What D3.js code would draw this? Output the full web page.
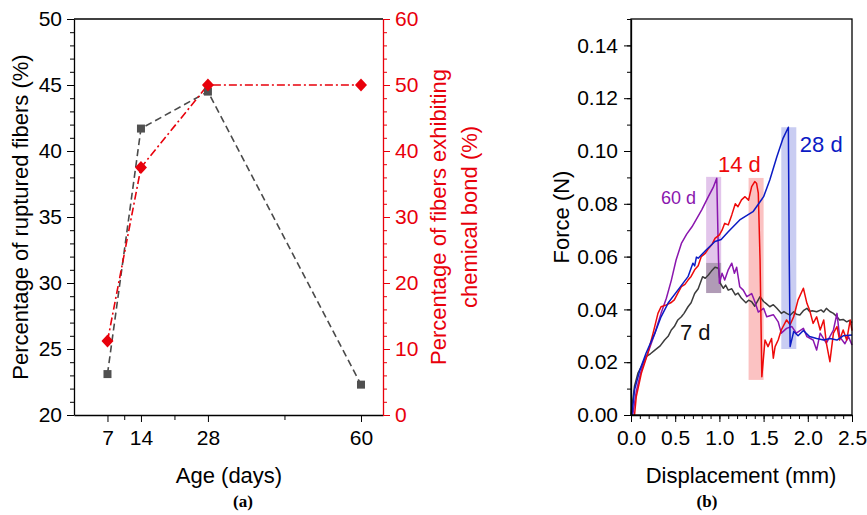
<!doctype html>
<html>
  <head>
    <meta charset="utf-8">
    <script src="https://cdn.jsdelivr.net/npm/d3@7/dist/d3.min.js"></script>
    <style>
      body { margin: 0; background: #fff; }
      svg { display: block; font-family: "Liberation Sans", Arial, sans-serif; }
    </style>
  </head>
  <body>
    <svg id="chart" width="867" height="515"></svg>
    <script>
      // (a) fiber statistics
      const ages = [7, 14, 28, 60];
      const ageTicks = [7, 14, 28, 60];
      const ageMinor = [10.5, 21, 44];
      const ruptured = [23.1, 41.7, 44.5, 22.3];   // left axis, %
      const chemBond = [11.2, 37.5, 50, 50];       // right axis, %

      // (b) force–displacement curves  [displacement mm, force N]
      const curve7d = [[0.0,0],[0.04,0.011],[0.08,0.016],[0.117,0.0183],[0.17,0.0221],[0.22,0.0232],[0.27,0.0246],
        [0.33,0.0262],[0.38,0.0284],[0.42,0.0298],[0.456,0.0322],[0.49,0.0335],[0.53,0.036],[0.57,0.0372],[0.60,0.0385],
        [0.645,0.041],[0.68,0.0425],[0.72,0.046],[0.76,0.0478],[0.81,0.0524],[0.84,0.0518],[0.875,0.053],[0.91,0.0545],
        [0.95,0.056],[0.99,0.0556],[1.01,0.0499],[1.045,0.048],[1.07,0.0492],[1.10,0.0473],[1.14,0.0478],[1.18,0.0455],
        [1.21,0.0462],[1.25,0.0442],[1.30,0.0425],[1.33,0.0435],[1.365,0.0429],[1.40,0.0412],[1.46,0.0448],[1.50,0.0430],
        [1.53,0.0422],[1.57,0.041],[1.61,0.0418],[1.65,0.0404],[1.70,0.0385],[1.73,0.0392],[1.76,0.0385],[1.80,0.0378],
        [1.84,0.0391],[1.87,0.0382],[1.91,0.0379],[1.95,0.0395],[1.99,0.0404],[2.02,0.0392],[2.05,0.0395],[2.10,0.0391],
        [2.15,0.0398],[2.18,0.039],[2.21,0.0404],[2.25,0.0392],[2.29,0.0385],[2.33,0.0372],[2.36,0.036],[2.40,0.0362],
        [2.44,0.0353],[2.47,0.0358],[2.5,0.035]];

      const curve14d = [[0.04,0],[0.06,0.007],[0.117,0.0158],[0.19,0.0234],[0.25,0.031],[0.305,0.0385],[0.34,0.041],
        [0.40,0.0417],[0.45,0.0425],[0.49,0.0436],[0.53,0.0462],[0.57,0.0486],[0.61,0.0495],[0.645,0.0511],[0.68,0.0525],
        [0.72,0.055],[0.76,0.0565],[0.795,0.06],[0.84,0.0612],[0.88,0.0632],[0.92,0.0648],[0.95,0.0669],[1.0,0.0682],
        [1.03,0.070],[1.06,0.0726],[1.10,0.072],[1.14,0.0758],[1.18,0.080],[1.21,0.0789],[1.25,0.0815],[1.29,0.0827],
        [1.33,0.0814],[1.365,0.0865],[1.40,0.0884],[1.42,0.0878],[1.44,0.084],[1.46,0.0587],[1.48,0.0145],[1.50,0.0222],
        [1.516,0.0284],[1.55,0.0259],[1.59,0.029],[1.61,0.0215],[1.63,0.0259],[1.665,0.0284],[1.70,0.0322],[1.76,0.036],
        [1.80,0.0342],[1.84,0.0372],[1.89,0.0436],[1.95,0.048],[1.99,0.0423],[2.02,0.0398],[2.06,0.0347],[2.10,0.0372],
        [2.14,0.0322],[2.18,0.036],[2.21,0.0272],[2.25,0.0202],[2.29,0.031],[2.33,0.0335],[2.36,0.0284],[2.40,0.0322],
        [2.44,0.0284],[2.48,0.036],[2.5,0.032]];

      const curve28d = [[0.01,0],[0.04,0.0095],[0.10,0.017],[0.17,0.0234],[0.27,0.031],[0.34,0.0372],[0.42,0.0424],
        [0.53,0.0473],[0.645,0.0524],[0.70,0.0575],[0.72,0.0565],[0.74,0.0598],[0.76,0.0594],[0.85,0.0625],[0.95,0.0657],
        [1.02,0.0665],[1.10,0.0694],[1.23,0.0739],[1.38,0.077],[1.50,0.0827],[1.57,0.089],[1.65,0.0978],[1.72,0.1048],
        [1.78,0.109],[1.79,0.06],[1.80,0.0259],[1.84,0.0316],[1.89,0.030],[1.95,0.032],[2.02,0.0297],[2.10,0.029],
        [2.18,0.0284],[2.25,0.029],[2.33,0.0284],[2.40,0.030],[2.5,0.0303]];

      const curve60d = [[0.02,0],[0.06,0.009],[0.117,0.017],[0.19,0.0234],[0.27,0.031],[0.34,0.0385],[0.40,0.0442],
        [0.456,0.051],[0.51,0.0587],[0.57,0.065],[0.63,0.0685],[0.69,0.0713],[0.75,0.0748],[0.80,0.0777],[0.875,0.0827],
        [0.93,0.0862],[0.97,0.0897],[0.99,0.0587],[1.0,0.0499],[1.03,0.0537],[1.06,0.0511],[1.10,0.055],[1.14,0.0575],
        [1.17,0.0537],[1.195,0.056],[1.23,0.0486],[1.27,0.0473],[1.31,0.0448],[1.365,0.046],[1.40,0.043],[1.44,0.039],
        [1.50,0.0404],[1.535,0.0372],[1.61,0.038],[1.665,0.0353],[1.70,0.031],[1.76,0.0328],[1.82,0.0335],[1.87,0.031],
        [1.95,0.0328],[1.99,0.0297],[2.06,0.0284],[2.10,0.0246],[2.14,0.031],[2.21,0.0272],[2.29,0.0322],[2.33,0.0385],
        [2.36,0.0297],[2.42,0.027],[2.46,0.0297],[2.5,0.0265]];

      // highlighted failure zones: [series, x0, x1, y0, y1]
      const bands = [["60 d", 0.85, 1.02, 0.0462, 0.0902], ["7 d", 0.85, 1.02, 0.0462, 0.0576],
        ["14 d", 1.33, 1.50, 0.0133, 0.0898], ["28 d", 1.70, 1.87, 0.025, 0.109]];

      const svg = d3.select("#chart");

      // d3 axes set their own small sans-serif font; restyle labels to match the figure
      function styleTicks(g, color) {
        g.attr("font-family", null).attr("font-size", null);
        g.selectAll("text").attr("font-size", 21).attr("font-family", "Liberation Sans, Arial, sans-serif");
        if (color) {
          g.selectAll("line, path").attr("stroke", color);
          g.selectAll("text").attr("fill", color);
        }
      }

      // ---------- panel (a) ----------
      const xA = d3.scaleLinear().domain([0, 64.6]).range([74, 383]);
      const yL = d3.scaleLinear().domain([20, 50]).range([415, 19]);
      const yR = d3.scaleLinear().domain([0, 60]).range([415, 19]);
      const red = "#e8000b";

      const gA = svg.append("g");

      gA.append("line").attr("x1", 74).attr("x2", 383).attr("y1", 19).attr("y2", 19)
        .attr("stroke", "#000").attr("stroke-width", 1.3);

      gA.append("g").attr("transform", "translate(0,415)")
        .call(d3.axisBottom(xA).tickValues(ageMinor).tickSize(5).tickFormat(""))
        .call(g => g.select(".domain").remove());
      gA.append("g").attr("transform", "translate(0,415)")
        .call(d3.axisBottom(xA).tickValues(ageTicks).tickSize(7).tickPadding(8).tickSizeOuter(0))
        .call(g => styleTicks(g));

      gA.append("g").attr("transform", "translate(74,0)")
        .call(d3.axisLeft(yL).ticks(30).tickSize(4).tickFormat(""))
        .call(g => g.select(".domain").remove());
      gA.append("g").attr("transform", "translate(74,0)")
        .call(d3.axisLeft(yL).tickValues(d3.range(20, 51, 5)).tickSize(7).tickPadding(5).tickSizeOuter(0))
        .call(g => styleTicks(g));

      gA.append("g").attr("transform", "translate(383,0)")
        .call(d3.axisRight(yR).ticks(30).tickSize(4).tickFormat(""))
        .call(g => g.select(".domain").remove())
        .call(g => g.selectAll("line").attr("stroke", red));
      gA.append("g").attr("transform", "translate(383,0)")
        .call(d3.axisRight(yR).tickValues(d3.range(0, 61, 10)).tickSize(7).tickPadding(5).tickSizeOuter(0))
        .call(g => styleTicks(g, red));

      gA.selectAll(".domain").attr("stroke-width", 1.3);

      const lineL = d3.line().x((d, i) => xA(ages[i])).y(d => yL(d));
      const lineR = d3.line().x((d, i) => xA(ages[i])).y(d => yR(d));

      gA.append("path").datum(ruptured).attr("d", lineL)
        .attr("fill", "none").attr("stroke", "#4a4a4a").attr("stroke-width", 1.6)
        .attr("stroke-dasharray", "7,4");
      gA.append("path").datum(chemBond).attr("d", lineR)
        .attr("fill", "none").attr("stroke", red).attr("stroke-width", 1.6)
        .attr("stroke-dasharray", "8,3,2,3");

      gA.selectAll("rect.sq").data(ruptured).join("rect").attr("class", "sq")
        .attr("x", (d, i) => xA(ages[i]) - 4).attr("y", d => yL(d) - 4)
        .attr("width", 8).attr("height", 8).attr("fill", "#505050");
      gA.selectAll("path.dm").data(chemBond).join("path").attr("class", "dm")
        .attr("transform", (d, i) => `translate(${xA(ages[i])},${yR(d)})`)
        .attr("d", "M0,-6.5L6,0L0,6.5L-6,0Z").attr("fill", red);

      gA.append("text").attr("transform", "translate(28,217) rotate(-90)")
        .attr("text-anchor", "middle").attr("font-size", 22)
        .text("Percentage of ruptured fibers (%)");
      gA.append("text").attr("transform", "translate(446,217) rotate(-90)")
        .attr("text-anchor", "middle").attr("font-size", 22).attr("fill", red)
        .text("Percentage of fibers exhibiting");
      gA.append("text").attr("transform", "translate(477,217) rotate(-90)")
        .attr("text-anchor", "middle").attr("font-size", 22).attr("fill", red)
        .text("chemical bond (%)");
      gA.append("text").attr("x", 229).attr("y", 483).attr("text-anchor", "middle")
        .attr("font-size", 22).text("Age (days)");
      gA.append("text").attr("x", 243).attr("y", 507).attr("text-anchor", "middle")
        .attr("font-family", "Liberation Serif, Times New Roman, serif").attr("font-weight", "bold")
        .attr("font-size", 17).text("(a)");

      // ---------- panel (b) ----------
      const xB = d3.scaleLinear().domain([0, 2.5]).range([631, 852]);
      const yB = d3.scaleLinear().domain([0, 0.15]).range([415, 19]);
      const colors = { "7 d": "#3c3c3c", "14 d": "#ee0a0a", "28 d": "#0b1bc4", "60 d": "#8a16ae" };
      const bandAlpha = { "7 d": 0.3, "14 d": 0.25, "28 d": 0.22, "60 d": 0.25 };

      const gB = svg.append("g");

      gB.selectAll("rect.band").data(bands).join("rect").attr("class", "band")
        .attr("x", d => xB(d[1])).attr("width", d => xB(d[2]) - xB(d[1]))
        .attr("y", d => yB(d[4])).attr("height", d => yB(d[3]) - yB(d[4]))
        .attr("fill", d => colors[d[0]]).attr("fill-opacity", d => bandAlpha[d[0]]);

      const lineB = d3.line().x(d => xB(d[0])).y(d => yB(d[1]));
      const curves = [["7 d", curve7d], ["60 d", curve60d], ["14 d", curve14d], ["28 d", curve28d]];
      gB.selectAll("path.curve").data(curves).join("path").attr("class", "curve")
        .attr("d", d => lineB(d[1])).attr("fill", "none")
        .attr("stroke", d => colors[d[0]]).attr("stroke-width", 1.5)
        .attr("stroke-linejoin", "round");

      gB.append("rect").attr("x", 631).attr("y", 19).attr("width", 221).attr("height", 396)
        .attr("fill", "none").attr("stroke", "#000").attr("stroke-width", 1.3);

      gB.append("g").attr("transform", "translate(0,415)")
        .call(d3.axisBottom(xB).ticks(25).tickSize(4).tickFormat(""))
        .call(g => g.select(".domain").remove());
      gB.append("g").attr("transform", "translate(0,415)")
        .call(d3.axisBottom(xB).tickValues(d3.range(0, 2.51, 0.5)).tickFormat(d3.format(".1f"))
          .tickSize(7).tickPadding(8).tickSizeOuter(0))
        .call(g => styleTicks(g));
      gB.append("g").attr("transform", "translate(631,0)")
        .call(d3.axisLeft(yB).ticks(15).tickSize(4).tickFormat(""))
        .call(g => g.select(".domain").remove());
      gB.append("g").attr("transform", "translate(631,0)")
        .call(d3.axisLeft(yB).tickValues(d3.range(0, 0.141, 0.02)).tickFormat(d3.format(".2f"))
          .tickSize(7).tickPadding(6).tickSizeOuter(0))
        .call(g => styleTicks(g));
      gB.selectAll(".domain").attr("stroke-width", 1.3);

      const curveLabels = [["28 d", 1.91, 0.0996, 22], ["14 d", 0.984, 0.092, 22],
        ["60 d", 0.34, 0.0799, 18], ["7 d", 0.554, 0.0284, 22]];
      gB.selectAll("text.lbl").data(curveLabels).join("text").attr("class", "lbl")
        .attr("x", d => xB(d[1])).attr("y", d => yB(d[2]))
        .attr("font-size", d => d[3]).attr("fill", d => d[0] === "7 d" ? "#111" : colors[d[0]])
        .text(d => d[0]);

      gB.append("text").attr("transform", "translate(569,217) rotate(-90)")
        .attr("text-anchor", "middle").attr("font-size", 22).text("Force (N)");
      gB.append("text").attr("x", 741).attr("y", 483).attr("text-anchor", "middle")
        .attr("font-size", 22).text("Displacement (mm)");
      gB.append("text").attr("x", 707).attr("y", 507).attr("text-anchor", "middle")
        .attr("font-family", "Liberation Serif, Times New Roman, serif").attr("font-weight", "bold")
        .attr("font-size", 17).text("(b)");
    </script>
  </body>
</html>
